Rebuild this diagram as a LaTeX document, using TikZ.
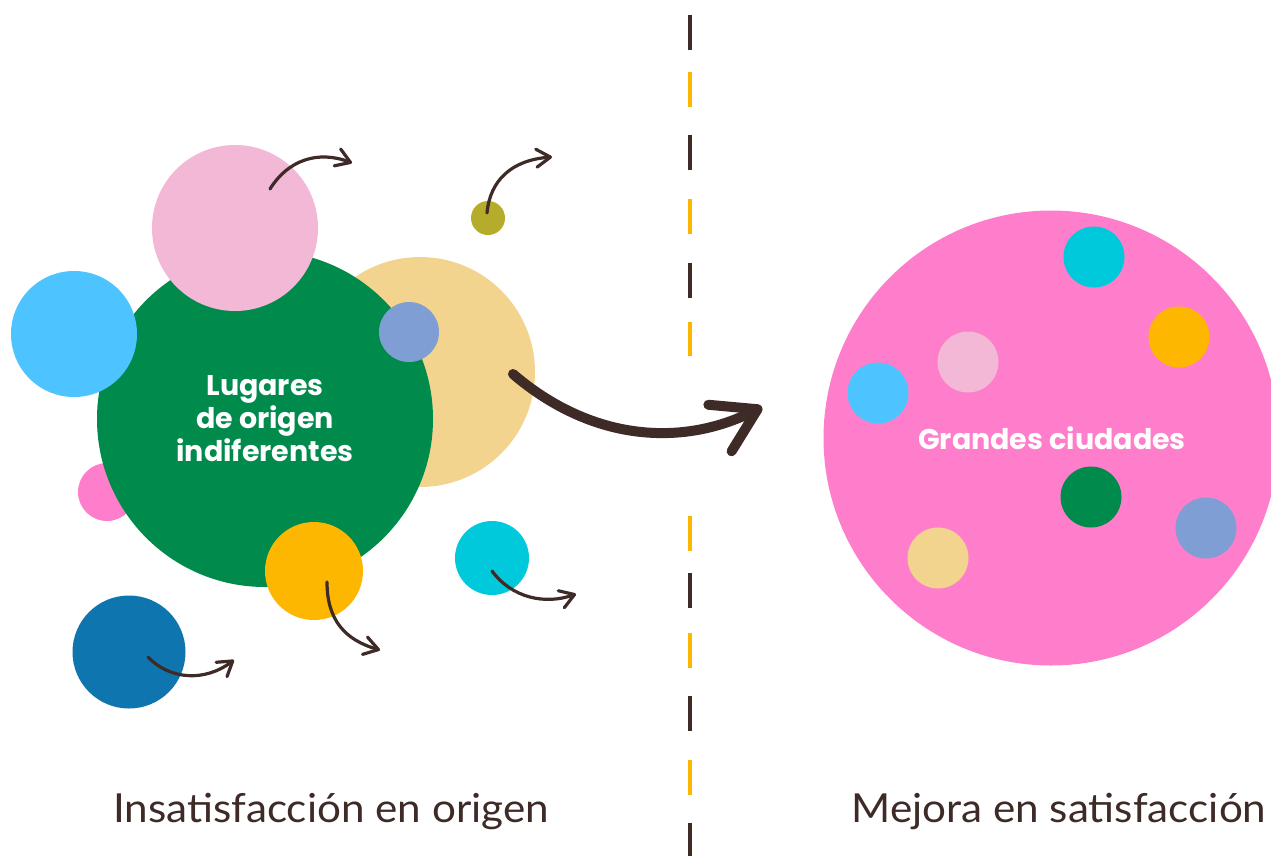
\documentclass[tikz,border=0pt]{standalone}
\usepackage{fontspec}
\setmainfont{Poppins}
\newfontfamily\labelfont{Lato}[FakeStretch=1.055]
\usetikzlibrary{arrows.meta}
\definecolor{cgreen}{HTML}{008A4B}
\definecolor{cpinkl}{HTML}{F2B8D5}
\definecolor{cblue}{HTML}{4DC3FF}
\definecolor{ctan}{HTML}{F2D48F}
\definecolor{cslate}{HTML}{7F9FD4}
\definecolor{colive}{HTML}{B5AC2B}
\definecolor{cmag}{HTML}{FF7ECB}
\definecolor{cyell}{HTML}{FDB700}
\definecolor{ccyan}{HTML}{00C9DB}
\definecolor{cdblue}{HTML}{0F75AF}
\definecolor{cbrown}{HTML}{3E2A26}
\begin{document}
\begin{tikzpicture}[x=1pt,y=-1pt,
  dot/.style={circle, inner sep=0pt, draw=none, minimum size=#1},
  thinarrow/.style={draw=cbrown, line width=3.2pt, line cap=round,
    -{Straight Barb[length=14pt,width=18pt,line cap=round,line join=round]}},
  bigarrow/.style={draw=cbrown, line width=10pt, line cap=round,
    -{Straight Barb[length=42pt,width=52pt,line cap=round,line join=round]}},
  dashb/.style={draw=cbrown, line width=4.5pt},
  dashy/.style={draw=cyell, line width=4.5pt},
  bigtext/.style={text=white, font=\bfseries\fontsize{28.5}{33}\selectfont, align=center},
  label/.style={text=cbrown, font=\labelfont\fontsize{40}{48}\selectfont, anchor=base}
]
\useasboundingbox (0,0) rectangle (1271,855);
\fill[white] (0,0) rectangle (1271,855);

% divider
\foreach \a/\b in {15/50,135/170,263/298,573/608,696/731,823/858}
  \draw[dashb] (690,\a) -- (690,\b);
\foreach \a/\b in {72/107,199/234,322/356,516/551,633/668,760/795}
  \draw[dashy] (690,\a) -- (690,\b);

% left cluster
\node[dot=58pt, fill=cmag] (mag) at (107,492) {};
\node[dot=230pt, fill=ctan] (tan) at (420,372) {};
\node[dot=336pt, fill=cgreen] (green) at (265,419) {};
\node[dot=126pt, fill=cblue] (lblue) at (74,334) {};
\node[dot=166pt, fill=cpinkl] (pinkl) at (235,228) {};
\node[dot=60pt, fill=cslate] (slate) at (409,332) {};
\node[dot=34pt, fill=colive] (olive) at (488,218) {};
\node[dot=98pt, fill=cyell] (yell) at (314,571) {};
\node[dot=74pt, fill=ccyan] (cyan) at (492,558) {};
\node[dot=113pt, fill=cdblue] (dblue) at (129,652) {};

\node[bigtext] (lugares) at (265,419) {Lugares\\de origen\\indiferentes};

% small arrows
\coordinate (p1) at (270,189); \coordinate (p2) at (352,163);
\draw[thinarrow] (p1) .. controls (288,160) and (318,150) .. (p2);
\coordinate (o1) at (487,213); \coordinate (o2) at (552,157);
\draw[thinarrow] (o1) .. controls (490,180) and (512,160) .. (o2);
\coordinate (y1) at (327,582); \coordinate (y2) at (380,650);
\draw[thinarrow] (y1) .. controls (327,620) and (345,640) .. (y2);
\coordinate (c1) at (492,571); \coordinate (c2) at (576,594);
\draw[thinarrow] (c1) .. controls (512,598) and (545,605) .. (c2);
\coordinate (d1) at (148,657); \coordinate (d2) at (234,660);
\draw[thinarrow] (d1) .. controls (170,680) and (205,682) .. (d2);

% big arrow
\coordinate (b1) at (513,374); \coordinate (b2) at (762,407);
\draw[bigarrow] (b1) .. controls (590,440) and (680,448) .. (b2);

% right cluster
\node[dot=455pt, fill=cmag] (city) at (1051,438) {};
\node[dot=61pt, fill=ccyan] (r1) at (1094,257) {};
\node[dot=61pt, fill=cyell] (r2) at (1179,337) {};
\node[dot=61pt, fill=cpinkl] (r3) at (968,362) {};
\node[dot=61pt, fill=cblue] (r4) at (878,393) {};
\node[dot=61pt, fill=cgreen] (r5) at (1091,497) {};
\node[dot=61pt, fill=cslate] (r6) at (1206,528) {};
\node[dot=61pt, fill=ctan] (r7) at (938,558) {};
\node[bigtext] (grandes) at (1052,438) {Grandes ciudades};

% labels
\node[label] (l1) at (331,822) {Insatisfacción en origen};
\node[label] (l2) at (1059,822) {Mejora en satisfacción};
\end{tikzpicture}
\end{document}
